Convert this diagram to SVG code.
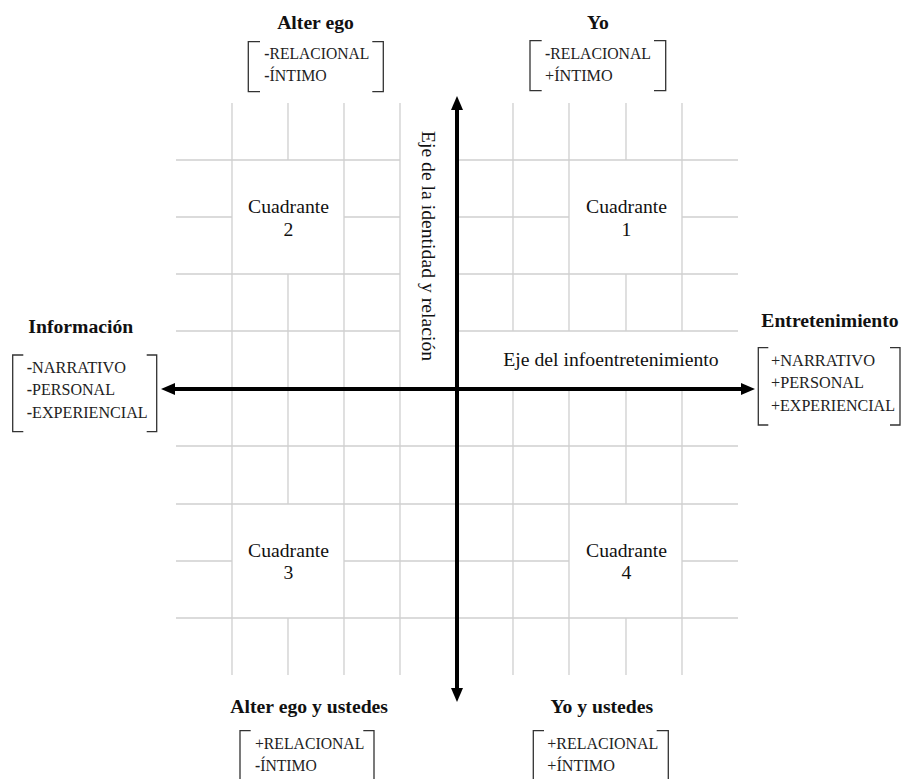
<svg xmlns="http://www.w3.org/2000/svg" width="903" height="779" viewBox="0 0 903 779">
<style>
.g{stroke:#cfcfcf;stroke-width:1.3;fill:none}
.ax{stroke:#000;stroke-width:4;fill:none;marker-start:url(#ah);marker-end:url(#ah)}
.br{stroke:#333;stroke-width:1.3;fill:none}
.t{font-family:"Liberation Serif","Times New Roman",serif;font-size:19.7px;fill:#111}
.h{font-family:"Liberation Serif","Times New Roman",serif;font-size:19.7px;font-weight:bold;fill:#111;text-anchor:middle}
.s{font-family:"Liberation Serif","Times New Roman",serif;font-size:16.5px;fill:#222}
.m{text-anchor:middle}
</style>
<defs>
<marker id="ah" markerUnits="userSpaceOnUse" markerWidth="15" markerHeight="13" refX="0" refY="6.5" orient="auto-start-reverse">
<path d="M0,0.5 L14,6.5 L0,12.5 z" fill="#000"/>
</marker>
</defs>
<rect width="903" height="779" fill="#fff"/>
<g id="grid" class="g">
<path d="M232,103V675 M288,103V160 M288,274V504 M288,618V675 M344,103V675 M400,103V675
M513,103V331 M513,389V675 M569,103V331 M569,389V675 M626,103V160 M626,274V331 M626,389V504 M626,618V675 M682,103V331 M682,389V675"/>
<path d="M176,160H400 M457,160H738 M176,217H232 M344,217H400 M457,217H569 M682,217H738 M176,274H400 M457,274H738 M176,331H400 M457,331H738
M176,446H738 M176,504H738 M176,561H232 M344,561H569 M682,561H738 M176,618H738"/>
</g>
<g id="connectors">
<line class="ax" x1="457" y1="110" x2="457" y2="688"/>
<line class="ax" x1="175" y1="389" x2="741" y2="389"/>
</g>
<g id="axis-labels">
<text class="t m" transform="translate(422,246) rotate(90)">Eje de la identidad y relación</text>
<text class="t" x="503.3" y="366">Eje del infoentretenimiento</text>
</g>
<g id="cuadrante-1"><text class="t m" x="626.5" y="213.3">Cuadrante</text><text class="t m" x="626.5" y="235.7">1</text></g>
<g id="cuadrante-2"><text class="t m" x="288.5" y="213.3">Cuadrante</text><text class="t m" x="288.5" y="235.7">2</text></g>
<g id="cuadrante-3"><text class="t m" x="288.5" y="557.3">Cuadrante</text><text class="t m" x="288.5" y="579.3">3</text></g>
<g id="cuadrante-4"><text class="t m" x="626.5" y="557.3">Cuadrante</text><text class="t m" x="626.5" y="579.3">4</text></g>
<g id="alter-ego">
<text class="h" x="315.5" y="29.3">Alter ego</text>
<path class="br" d="M260,41.7H248.3V91.7H260 M372.3,41.7H383.3V91.7H372.3"/>
<text class="s" x="264.3" y="59.3" textLength="105" lengthAdjust="spacingAndGlyphs"><tspan font-weight="bold">-</tspan>RELACIONAL</text>
<text class="s" x="264.3" y="81" textLength="62.4" lengthAdjust="spacingAndGlyphs"><tspan font-weight="bold">-</tspan>ÍNTIMO</text>
</g>
<g id="yo">
<text class="h" x="598" y="29.3">Yo</text>
<path class="br" d="M541.7,40.7H530V90.7H541.7 M654,40.7H665.7V90.7H654"/>
<text class="s" x="545" y="59" textLength="106" lengthAdjust="spacingAndGlyphs"><tspan font-weight="bold">-</tspan>RELACIONAL</text>
<text class="s" x="545" y="81" textLength="67.7" lengthAdjust="spacingAndGlyphs">+ÍNTIMO</text>
</g>
<g id="informacion">
<text class="h" x="80.8" y="333.3">Información</text>
<path class="br" d="M23.3,355H12.7V431.7H23.3 M146.7,355H156.7V431.7H146.7"/>
<text class="s" x="26.7" y="372.5" textLength="99.3" lengthAdjust="spacingAndGlyphs"><tspan font-weight="bold">-</tspan>NARRATIVO</text>
<text class="s" x="26.7" y="395" textLength="88.3" lengthAdjust="spacingAndGlyphs"><tspan font-weight="bold">-</tspan>PERSONAL</text>
<text class="s" x="26.7" y="417.5" textLength="121" lengthAdjust="spacingAndGlyphs"><tspan font-weight="bold">-</tspan>EXPERIENCIAL</text>
</g>
<g id="entretenimiento">
<text class="h" x="830" y="326.7">Entretenimiento</text>
<path class="br" d="M768.3,347.7H758.3V425H768.3 M890,347.7H900V425H890"/>
<text class="s" x="771" y="365.5" textLength="104" lengthAdjust="spacingAndGlyphs">+NARRATIVO</text>
<text class="s" x="771" y="388" textLength="93" lengthAdjust="spacingAndGlyphs">+PERSONAL</text>
<text class="s" x="771" y="410.5" textLength="124" lengthAdjust="spacingAndGlyphs">+EXPERIENCIAL</text>
</g>
<g id="alter-ego-y-ustedes">
<text class="h" x="309.2" y="713.3">Alter ego y ustedes</text>
<path class="br" d="M250.7,730.7H240V790 M363.3,730.7H374V790"/>
<text class="s" x="255" y="749.3" textLength="109.3" lengthAdjust="spacingAndGlyphs">+RELACIONAL</text>
<text class="s" x="255" y="771" textLength="61.7" lengthAdjust="spacingAndGlyphs"><tspan font-weight="bold">-</tspan>ÍNTIMO</text>
</g>
<g id="yo-y-ustedes">
<text class="h" x="601.8" y="713.3">Yo y ustedes</text>
<path class="br" d="M544,730.7H533.3V790 M656.7,730.7H668.3V790"/>
<text class="s" x="547.3" y="749.3" textLength="111" lengthAdjust="spacingAndGlyphs">+RELACIONAL</text>
<text class="s" x="547.3" y="771" textLength="67.7" lengthAdjust="spacingAndGlyphs">+ÍNTIMO</text>
</g>
</svg>
